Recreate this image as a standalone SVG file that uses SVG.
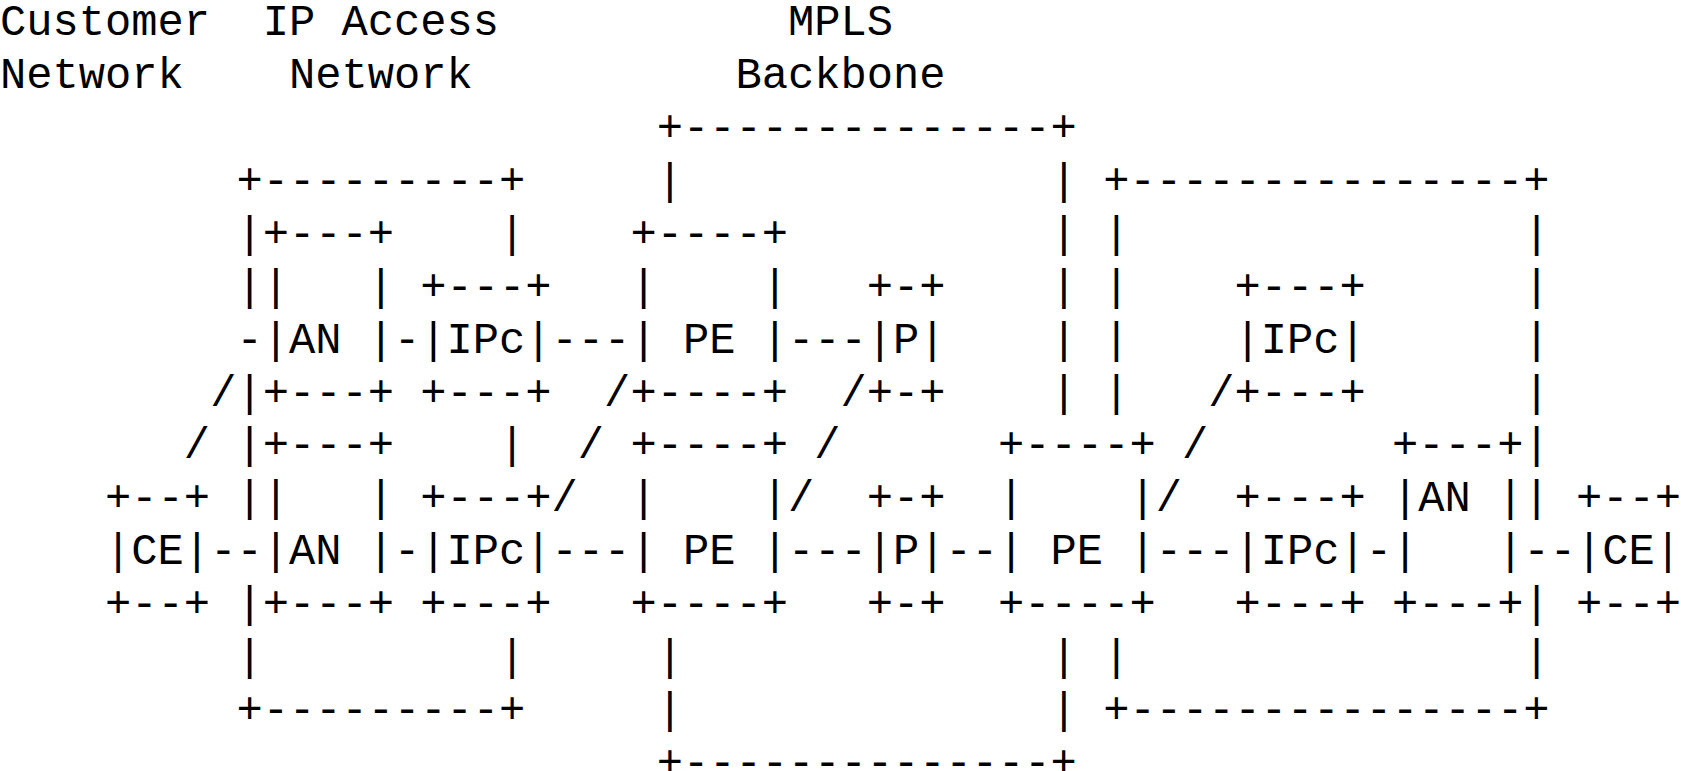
<svg xmlns="http://www.w3.org/2000/svg" width="1681" height="771" viewBox="0 0 1681 771" xml:space="preserve">
  <style>
    text { font-family: "Liberation Mono", "DejaVu Sans Mono", monospace; font-size: 43.77px; fill: #000000; white-space: pre; }
  </style>
  <!-- character grid: column width 26.2656, row baseline = 35.2 + (row-1) * 52.9 -->
  <rect x="0" y="0" width="1681" height="771" fill="#ffffff"/>

  <g id="headings">
    <text x="0" y="35.2">Customer</text>
    <text x="262.66" y="35.2">IP Access</text>
    <text x="787.97" y="35.2">MPLS</text>
    <text x="0" y="88.1">Network</text>
    <text x="288.92" y="88.1">Network</text>
    <text x="735.44" y="88.1">Backbone</text>
  </g>

  <!-- network regions -->
  <g id="access-network-left">
    <text x="236.39" y="193.9">+---------+</text>
    <text x="236.39" y="246.8">|</text><text x="499.05" y="246.8">|</text>
    <text x="236.39" y="299.7">|</text>
    <text x="236.39" y="405.5">|</text>
    <text x="236.39" y="458.4">|</text><text x="499.05" y="458.4">|</text>
    <text x="236.39" y="511.3">|</text>
    <text x="236.39" y="617.1">|</text>
    <text x="236.39" y="670.0">|</text><text x="499.05" y="670.0">|</text>
    <text x="236.39" y="722.9">+---------+</text>
  </g>

  <g id="mpls-backbone">
    <text x="656.64" y="141.0">+--------------+</text>
    <text x="656.64" y="193.9">|</text><text x="1050.63" y="193.9">|</text>
    <text x="1050.63" y="246.8">|</text>
    <text x="1050.63" y="299.7">|</text>
    <text x="1050.63" y="352.6">|</text>
    <text x="1050.63" y="405.5">|</text>
    <text x="656.64" y="670.0">|</text><text x="1050.63" y="670.0">|</text>
    <text x="656.64" y="722.9">|</text><text x="1050.63" y="722.9">|</text>
    <text x="656.64" y="775.8">+--------------+</text>
  </g>

  <g id="access-network-right">
    <text x="1103.16" y="193.9">+---------------+</text>
    <text x="1103.16" y="246.8">|</text><text x="1523.41" y="246.8">|</text>
    <text x="1103.16" y="299.7">|</text><text x="1523.41" y="299.7">|</text>
    <text x="1103.16" y="352.6">|</text><text x="1523.41" y="352.6">|</text>
    <text x="1103.16" y="405.5">|</text><text x="1523.41" y="405.5">|</text>
    <text x="1523.41" y="458.4">|</text>
    <text x="1523.41" y="511.3">|</text>
    <text x="1523.41" y="617.1">|</text>
    <text x="1103.16" y="670.0">|</text><text x="1523.41" y="670.0">|</text>
    <text x="1103.16" y="722.9">+---------------+</text>
  </g>

  <!-- devices -->
  <g id="ce-left">
    <text x="105.06" y="511.3">+--+</text>
    <text x="105.06" y="564.2">|CE|</text>
    <text x="105.06" y="617.1">+--+</text>
  </g>

  <g id="an-upper">
    <text x="262.66" y="246.8">+---+</text>
    <text x="262.66" y="299.7">|   |</text>
    <text x="262.66" y="352.6">|AN |</text>
    <text x="262.66" y="405.5">+---+</text>
  </g>

  <g id="an-lower">
    <text x="262.66" y="458.4">+---+</text>
    <text x="262.66" y="511.3">|   |</text>
    <text x="262.66" y="564.2">|AN |</text>
    <text x="262.66" y="617.1">+---+</text>
  </g>

  <g id="ipc-upper-left">
    <text x="420.25" y="299.7">+---+</text>
    <text x="420.25" y="352.6">|IPc|</text>
    <text x="420.25" y="405.5">+---+</text>
  </g>

  <g id="ipc-lower-left">
    <text x="420.25" y="511.3">+---+</text>
    <text x="420.25" y="564.2">|IPc|</text>
    <text x="420.25" y="617.1">+---+</text>
  </g>

  <g id="pe-upper">
    <text x="630.38" y="246.8">+----+</text>
    <text x="630.38" y="299.7">|    |</text>
    <text x="630.38" y="352.6">| PE |</text>
    <text x="630.38" y="405.5">+----+</text>
  </g>

  <g id="pe-lower">
    <text x="630.38" y="458.4">+----+</text>
    <text x="630.38" y="511.3">|    |</text>
    <text x="630.38" y="564.2">| PE |</text>
    <text x="630.38" y="617.1">+----+</text>
  </g>

  <g id="p-upper">
    <text x="866.77" y="299.7">+-+</text>
    <text x="866.77" y="352.6">|P|</text>
    <text x="866.77" y="405.5">+-+</text>
  </g>

  <g id="p-lower">
    <text x="866.77" y="511.3">+-+</text>
    <text x="866.77" y="564.2">|P|</text>
    <text x="866.77" y="617.1">+-+</text>
  </g>

  <g id="pe-right">
    <text x="998.09" y="458.4">+----+</text>
    <text x="998.09" y="511.3">|    |</text>
    <text x="998.09" y="564.2">| PE |</text>
    <text x="998.09" y="617.1">+----+</text>
  </g>

  <g id="ipc-upper-right">
    <text x="1234.48" y="299.7">+---+</text>
    <text x="1234.48" y="352.6">|IPc|</text>
    <text x="1234.48" y="405.5">+---+</text>
  </g>

  <g id="ipc-lower-right">
    <text x="1234.48" y="511.3">+---+</text>
    <text x="1234.48" y="564.2">|IPc|</text>
    <text x="1234.48" y="617.1">+---+</text>
  </g>

  <g id="an-right">
    <text x="1392.08" y="458.4">+---+</text>
    <text x="1392.08" y="511.3">|AN |</text>
    <text x="1392.08" y="564.2">|   |</text>
    <text x="1392.08" y="617.1">+---+</text>
  </g>

  <g id="ce-right">
    <text x="1575.94" y="511.3">+--+</text>
    <text x="1575.94" y="564.2">|CE|</text>
    <text x="1575.94" y="617.1">+--+</text>
  </g>

  <!-- links between devices -->
  <g id="connectors">
    <text x="183.86" y="458.4">/</text>
    <text x="210.13" y="405.5">/</text>
    <text x="236.39" y="352.6">-</text>
    <text x="393.98" y="352.6">-</text>
    <text x="551.58" y="352.6">---</text>
    <text x="787.97" y="352.6">---</text>

    <text x="604.11" y="405.5">/</text>
    <text x="577.84" y="458.4">/</text>
    <text x="551.58" y="511.3">/</text>

    <text x="840.50" y="405.5">/</text>
    <text x="814.23" y="458.4">/</text>
    <text x="787.97" y="511.3">/</text>

    <text x="1208.22" y="405.5">/</text>
    <text x="1181.95" y="458.4">/</text>
    <text x="1155.69" y="511.3">/</text>

    <text x="210.13" y="564.2">--</text>
    <text x="393.98" y="564.2">-</text>
    <text x="551.58" y="564.2">---</text>
    <text x="787.97" y="564.2">---</text>
    <text x="945.56" y="564.2">--</text>
    <text x="1155.69" y="564.2">---</text>
    <text x="1365.81" y="564.2">-</text>
    <text x="1523.41" y="564.2">--</text>
  </g>
</svg>
